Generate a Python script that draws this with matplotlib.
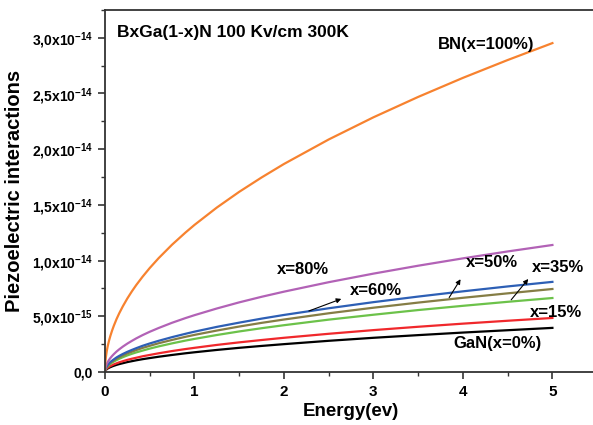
import numpy as np
import matplotlib
matplotlib.use("Agg")
import matplotlib.pyplot as plt
from matplotlib.ticker import FixedLocator, MultipleLocator

plt.rcParams['font.family'] = ['Liberation Sans', 'DejaVu Sans']
plt.rcParams['font.weight'] = 'bold'
plt.rcParams['mathtext.fontset'] = 'custom'
plt.rcParams['mathtext.rm'] = 'Liberation Sans:bold'
plt.rcParams['mathtext.default'] = 'rm'

# energy points (eV) and values (units of 1e-14)
energy = [0, 0.002, 0.005, 0.01, 0.02, 0.03, 0.045, 0.06, 0.08, 0.1, 0.13, 0.16, 0.2, 0.25, 0.3,
          0.35, 0.42, 0.5, 0.6, 0.75, 0.9, 1, 1.25, 1.5, 1.75, 2, 2.5, 3, 3.5, 4, 4.5, 5]
bn_100 = [0, .059, .093, .132, .187, .229, .280, .323, .373, .417, .476, .528, .590, .660, .723,
          .781, .855, .933, 1.022, 1.143, 1.252, 1.32, 1.476, 1.617, 1.746, 1.867, 2.087, 2.286,
          2.469, 2.64, 2.800, 2.952]
x_80 = [0, .023, .036, .051, .072, .088, .108, .125, .144, .161, .184, .204, .228, .255, .279,
        .302, .331, .361, .395, .442, .484, .51, .570, .625, .675, .721, .806, .883, .954, 1.02,
        1.082, 1.140]
x_60 = [0, .016, .026, .036, .051, .063, .077, .089, .102, .114, .131, .145, .162, .181, .198,
        .214, .235, .256, .280, .313, .343, .362, .405, .443, .479, .512, .572, .627, .677, .724,
        .768, .809]
x_50 = [0, .015, .024, .033, .047, .058, .071, .082, .094, .105, .120, .133, .149, .167, .182,
        .197, .216, .235, .258, .288, .316, .333, .372, .408, .441, .471, .527, .577, .623, .666,
        .706, .745]
x_35 = [0, .013, .021, .030, .042, .051, .063, .073, .084, .094, .107, .119, .133, .149, .163,
        .176, .192, .210, .230, .257, .282, .297, .332, .364, .393, .420, .470, .514, .556, .594,
        .630, .664]
x_15 = [0, .0097, .015, .022, .031, .038, .046, .053, .061, .069, .078, .087, .097, .109, .119,
        .128, .141, .153, .168, .188, .206, .217, .243, .266, .287, .307, .343, .376, .406, .434,
        .460, .485]
gan_0 = [0, .0079, .0125, .018, .025, .031, .038, .043, .050, .056, .064, .071, .079, .089, .097,
         .105, .115, .125, .137, .153, .168, .177, .198, .217, .234, .250, .280, .307, .331, .354,
         .375, .396]

series = [
    (gan_0, '#000000'),
    (x_15, '#f0282c'),
    (x_35, '#6cc24a'),
    (x_50, '#857d45'),
    (x_60, '#2d5fb5'),
    (x_80, '#b262b6'),
    (bn_100, '#f7822f'),
]

ytick_vals = [0, 0.5e-14, 1.0e-14, 1.5e-14, 2.0e-14, 2.5e-14, 3.0e-14]
ytick_labels = ['0,0', '5,0x10$^{-15}$', '1,0x10$^{-14}$', '1,5x10$^{-14}$',
                '2,0x10$^{-14}$', '2,5x10$^{-14}$', '3,0x10$^{-14}$']

fig = plt.figure(figsize=(5.93, 4.25), dpi=100)
ax = fig.add_axes([0.177, 0.1247, 0.83, 0.852])

e = np.array(energy)
for vals, col in series:
    ax.plot(e, np.array(vals) * 1e-14, color=col, lw=1.6)

ax.set_xlim(0, 5.5)
ax.set_ylim(0, 3.25e-14)
ax.xaxis.set_major_locator(FixedLocator([0, 1, 2, 3, 4, 5]))
ax.xaxis.set_minor_locator(MultipleLocator(0.5))
ax.set_yticks(ytick_vals)
ax.set_yticklabels(ytick_labels)
ax.yaxis.set_minor_locator(MultipleLocator(0.25e-14))

for s in ['top', 'bottom', 'left', 'right']:
    ax.spines[s].set_linewidth(1.3)
    ax.spines[s].set_color('#333333')
ax.tick_params(which='major', direction='out', length=5, width=1.2, labelsize=10, color='#333333')
ax.tick_params(which='minor', direction='out', length=3, width=1.0, color='#333333')
ax.tick_params(axis='x', labelsize=11, pad=4)

ax.set_xlabel('Energy(ev)', fontsize=13.5, fontweight='bold', labelpad=3)
ax.set_ylabel('Piezoelectric interactions', fontsize=14.5, fontweight='bold', labelpad=6)

ax.text(0.13, 3.05e-14, 'BxGa(1-x)N 100 Kv/cm 300K', fontsize=12.5, fontweight='bold', va='center')

lab = dict(fontsize=12, fontweight='bold', ha='center', va='center')
ax.text(4.26, 2.94e-14, 'BN(x=100%)', **lab)
ax.text(2.21, 0.916e-14, 'x=80%', **lab)
ax.text(3.03, 0.728e-14, 'x=60%', **lab)
ax.text(4.32, 0.979e-14, 'x=50%', **lab)
ax.text(5.06, 0.934e-14, 'x=35%', **lab)
ax.text(5.04, 0.53e-14, 'x=15%', **lab)
ax.text(4.39, 0.26e-14, 'GaN(x=0%)', **lab)

arrow = dict(arrowstyle='-|>', color='black', lw=0.8, mutation_scale=7)
ax.annotate('', xy=(2.67, 0.665e-14), xytext=(2.25, 0.539e-14), arrowprops=arrow)
ax.annotate('', xy=(3.99, 0.854e-14), xytext=(3.83, 0.647e-14), arrowprops=arrow)
ax.annotate('', xy=(4.75, 0.854e-14), xytext=(4.52, 0.629e-14), arrowprops=arrow)

fig.savefig('out.png', dpi=100)
